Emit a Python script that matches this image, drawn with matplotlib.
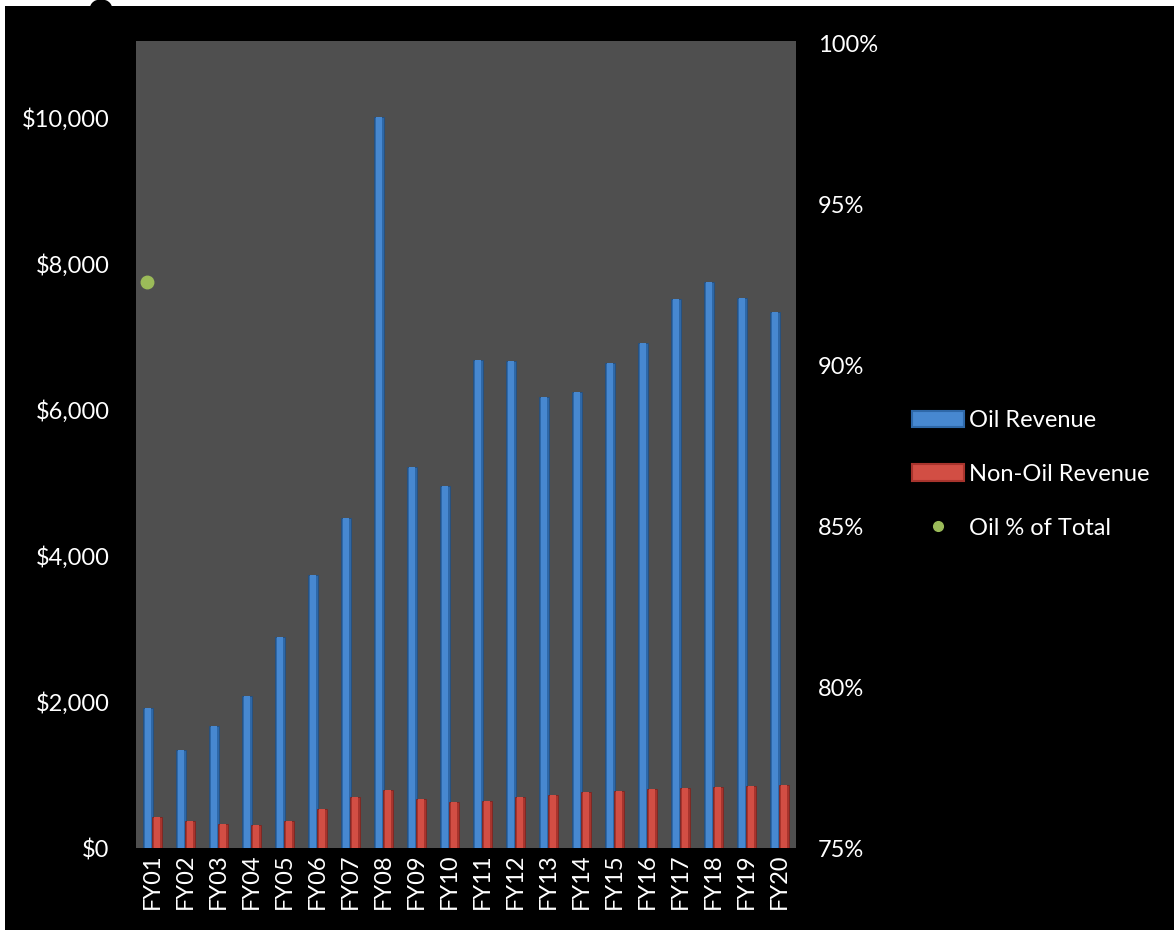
import numpy as np
import matplotlib
matplotlib.use("Agg")
import matplotlib.pyplot as plt
from matplotlib.patches import Patch, Rectangle, Circle
from matplotlib.lines import Line2D
from matplotlib.ticker import FuncFormatter

plt.rcParams["font.family"] = ["Lato", "DejaVu Sans"]

# ------------------------------------------------------------------
# Data ($ millions)
# ------------------------------------------------------------------
years = ["FY01", "FY02", "FY03", "FY04", "FY05", "FY06", "FY07", "FY08", "FY09", "FY10",
         "FY11", "FY12", "FY13", "FY14", "FY15", "FY16", "FY17", "FY18", "FY19", "FY20"]
oil_revenue = [1920, 1340, 1670, 2080, 2890, 3740, 4520, 10010, 5220, 4960,
               6685, 6670, 6180, 6250, 6645, 6920, 7520, 7755, 7535, 7340]
non_oil_revenue = [425, 370, 330, 315, 370, 535, 700, 795, 670, 630,
                   645, 700, 725, 765, 780, 808, 822, 836, 850, 863]
oil_pct_years = ["FY01"]
oil_pct = [0.926]

# colours
BLUE_DARK = "#2E68A8"
BLUE_LIGHT = "#4788D0"
RED_DARK = "#A8342D"
RED_LIGHT = "#D24E44"
GREEN = "#9BBB59"
PLOT_BG = "#4F4F4F"
FS = 17

W, H = 1174, 930
fig = plt.figure(figsize=(W / 100, H / 100), dpi=100, facecolor="white")
# black canvas with the small notch at the top, like the screenshot
fig.patches.append(Rectangle((5 / W, 0), 1 - 5 / W, 1 - 6 / H, transform=fig.transFigure,
                             facecolor="black", edgecolor="none", zorder=-10))
fig.patches.append(Circle((101 / W, 1 - 8 / H), 11 / W, transform=fig.transFigure,
                          facecolor="black", edgecolor="none", zorder=-10))

ax = fig.add_axes([136 / W, 1 - 848 / H, 660 / W, 807 / H])
ax.set_facecolor(PLOT_BG)

x = np.arange(len(years))
bw = 0.30
off = 0.13

# bars: darker body with a lighter centre stripe for the bevelled look
ax.bar(x - off, oil_revenue, bw, color=BLUE_DARK, edgecolor="#24507F", linewidth=0.6, zorder=2)
ax.bar(x - off, oil_revenue, bw * 0.55, color=BLUE_LIGHT, linewidth=0, zorder=3)
ax.bar(x + off, non_oil_revenue, bw, color=RED_DARK, edgecolor="#7E2520", linewidth=0.6, zorder=2)
ax.bar(x + off, non_oil_revenue, bw * 0.55, color=RED_LIGHT, linewidth=0, zorder=3)

ax.set_xlim(-0.5, len(years) - 0.5)
ax.set_ylim(0, 11055)
ax.set_yticks(np.arange(0, 10001, 2000))
ax.yaxis.set_major_formatter(FuncFormatter(lambda v, p: f"${v:,.0f}"))
ax.set_xticks(x)
ax.set_xticklabels(years, rotation=90)
ax.tick_params(axis="both", colors="white", labelsize=FS, length=0)
ax.tick_params(axis="y", pad=19)
ax.tick_params(axis="x", pad=4)
for s in ax.spines.values():
    s.set_visible(False)

ax2 = ax.twinx()
ax2.set_ylim(0.75, 1.0009)
ax2.set_yticks(np.arange(0.75, 1.001, 0.05))
ax2.yaxis.set_major_formatter(FuncFormatter(lambda v, p: f"{v * 100:.0f}%"))
ax2.tick_params(axis="y", colors="white", labelsize=FS, length=0, pad=16)
for s in ax2.spines.values():
    s.set_visible(False)

pct_x = [years.index(y) - 0.17 for y in oil_pct_years]
ax2.plot(pct_x, oil_pct, linestyle="none", marker="o", markersize=9,
         color=GREEN, zorder=5)

handles = [
    Patch(facecolor=BLUE_LIGHT, edgecolor=BLUE_DARK, linewidth=1.5),
    Patch(facecolor=RED_LIGHT, edgecolor=RED_DARK, linewidth=1.5),
    Line2D([], [], linestyle="none", marker="o", markersize=7, color=GREEN),
]
labels = ["Oil Revenue", "Non-Oil Revenue", "Oil % of Total"]
leg = fig.legend(handles, labels, loc="upper left", bbox_to_anchor=(903 / W, 1 - 401 / H),
                 frameon=False, fontsize=FS, labelcolor="white", handlelength=2.2,
                 handleheight=0.7, labelspacing=1.38, handletextpad=0.2, borderaxespad=0)

fig.savefig("out.png", dpi=100, facecolor=fig.get_facecolor())
